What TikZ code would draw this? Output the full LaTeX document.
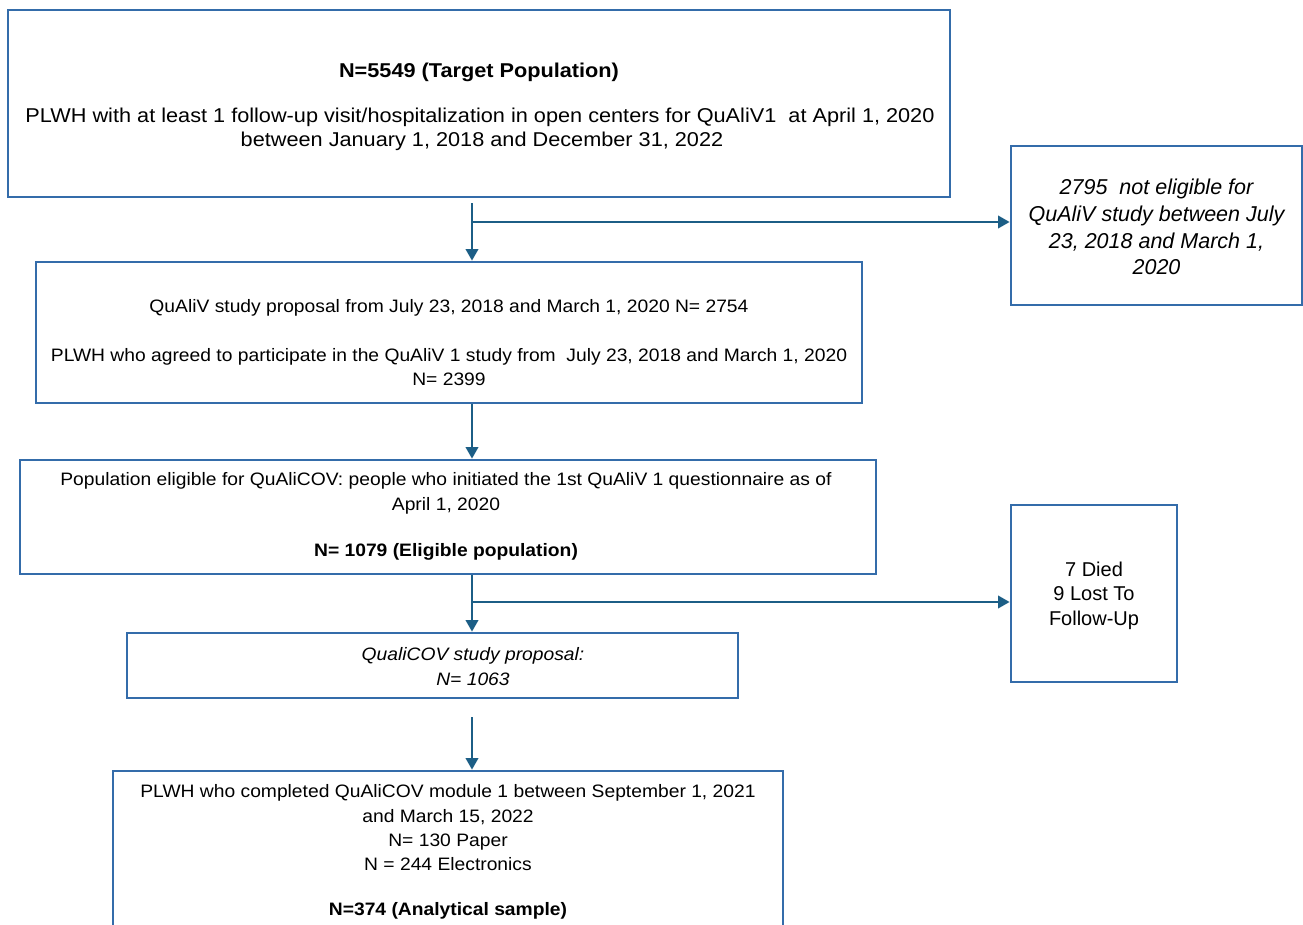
\documentclass[tikz,border=0pt]{standalone}
\usepackage{fontspec}
\setmainfont{Liberation Sans}
\newfontfamily\fA[FakeStretch=1.085]{Liberation Sans}
\newfontfamily\fN[FakeStretch=1.07]{Liberation Sans}
\usetikzlibrary{arrows.meta,calc}
\definecolor{boxblue}{RGB}{52,108,170}
\definecolor{arrblue}{RGB}{28,94,134}
\begin{document}
\begin{tikzpicture}[x=1pt,y=-1pt,
  box/.style={draw=boxblue,line width=1.8pt,rectangle,inner sep=0pt,fill=white},
  arr/.style={draw=arrblue,line width=2pt,-{Triangle[width=12.5pt,length=11.5pt]},shorten >=0.5pt},
  tl/.style={inner sep=0pt,anchor=base,text=black},
  ta/.style={tl,font=\fA\fontsize{20}{24}\selectfont},
  tn/.style={tl,font=\fN\fontsize{18}{22}\selectfont},
  tr/.style={tl,font=\fontsize{20}{24}\selectfont},
  ti/.style={tl,font=\fontsize{21.5}{26}\selectfont\itshape}]
\useasboundingbox (0,0) rectangle (1303,924);
\fill[white] (0,0) rectangle (1303,924);
\clip (0,0) rectangle (1303,924);

% boxes
\node[box,minimum width=942pt,minimum height=187pt] (b1) at (479,103.5) {};
\node[box,minimum width=291pt,minimum height=159pt] (bx) at (1156.5,225.5) {};
\node[box,minimum width=826pt,minimum height=141pt] (b2) at (449,332.5) {};
\node[box,minimum width=856pt,minimum height=114pt] (b3) at (448,517) {};
\node[box,minimum width=166pt,minimum height=177pt] (bd) at (1094,593.5) {};
\node[box,minimum width=611pt,minimum height=65pt] (b4) at (432.5,665.5) {};
\node[box,minimum width=670pt,minimum height=189pt] (b5) at (448,865.5) {};

% connector points
\coordinate (s1) at (472,203);
\coordinate (j1) at (472,222);
\coordinate (j3) at (472,602);
\coordinate (s4) at (472,717);

\draw[arr] (s1) -- (s1 |- b2.north);
\draw[arr] (j1) -- (j1 -| bx.west);
\draw[arr] (b2.south -| s1) -- (s1 |- b3.north);
\draw[arr] (b3.south -| s1) -- (s1 |- b4.north);
\draw[arr] (j3) -- (j3 -| bd.west);
\draw[arr] (s4) -- (s4 |- b5.north);

% box 1 text
\node[ta,font=\fA\fontsize{20}{24}\selectfont\bfseries] (t1a) at (479,77) {N=5549 (Target Population)};
\node[ta] (t1b) at (480,122) {PLWH with at least 1 follow-up visit/hospitalization in open centers for QuAliV1\ \ at April 1, 2020};
\node[ta] (t1c) at (482,146) {between January 1, 2018 and December 31, 2022};

% excluded box 1
\node[ti] (txa) at (1156.5,194.5) {2795\ \ not eligible for};
\node[ti] (txb) at (1156.5,221.5) {QuAliV study between July};
\node[ti] (txc) at (1156.5,248.5) {23, 2018 and March 1,};
\node[ti] (txd) at (1156.5,274.5) {2020};

% box 2 text
\node[tn] (t2a) at (449,312.5) {QuAliV study proposal from July 23, 2018 and March 1, 2020 N= 2754};
\node[tn] (t2b) at (449,361.5) {PLWH who agreed to participate in the QuAliV 1 study from\ \ July 23, 2018 and March 1, 2020};
\node[tn] (t2c) at (449,385.5) {N= 2399};

% box 3 text
\node[tn] (t3a) at (446,485.5) {Population eligible for QuAliCOV: people who initiated the 1st QuAliV 1 questionnaire as of};
\node[tn] (t3b) at (446,510.5) {April 1, 2020};
\node[tn,font=\fN\fontsize{18}{22}\selectfont\bfseries] (t3c) at (446,556.5) {N= 1079 (Eligible population)};

% died box
\node[tr] (tda) at (1094,576) {7 Died};
\node[tr] (tdb) at (1094,600) {9 Lost To};
\node[tr] (tdc) at (1094,625) {Follow-Up};

% box 4 text
\node[tn,font=\fN\fontsize{18}{22}\selectfont\itshape] (t4a) at (473,660.5) {QualiCOV study proposal:};
\node[tn,font=\fN\fontsize{18}{22}\selectfont\itshape] (t4b) at (473,685.5) {N= 1063};

% box 5 text
\node[tn] (t5a) at (448,797.5) {PLWH who completed QuAliCOV module 1 between September 1, 2021};
\node[tn] (t5b) at (448,822.5) {and March 15, 2022};
\node[tn] (t5c) at (448,846.5) {N= 130 Paper};
\node[tn] (t5d) at (448,870.5) {N = 244 Electronics};
\node[tn,font=\fN\fontsize{18}{22}\selectfont\bfseries] (t5e) at (448,915.5) {N=374 (Analytical sample)};
\end{tikzpicture}
\end{document}
